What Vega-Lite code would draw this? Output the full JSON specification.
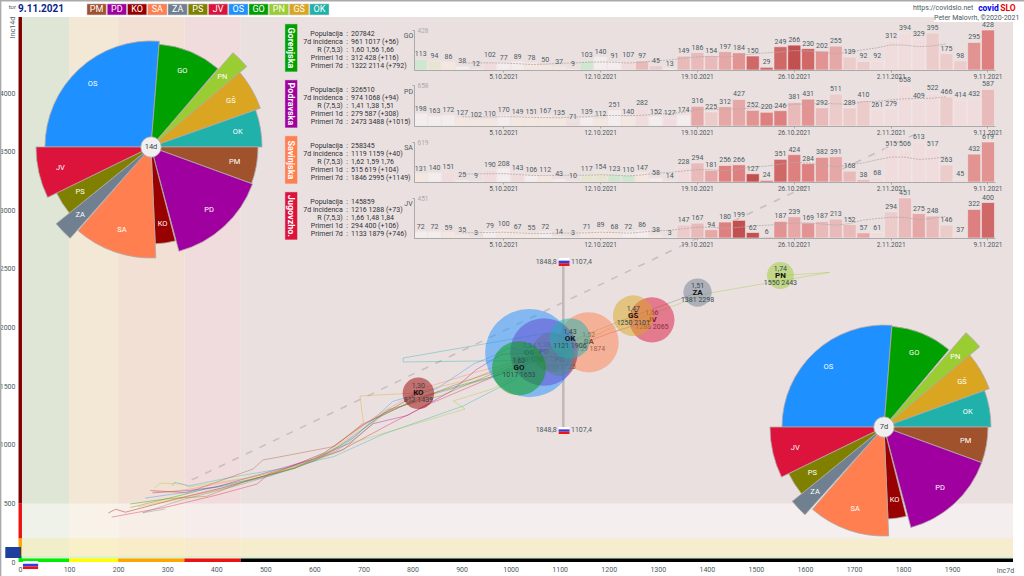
{
"$schema":"https://vega.github.io/schema/vega-lite/v6.json",
"autosize":{"type":"none"},
"padding":{"left":20,"top":18,"right":11,"bottom":14},
"width":993,"height":544,
"background":"#ffffff",
"config":{"view":{"stroke":null},"font":"Roboto","text":{"font":"Roboto"}},
"resolve":{"scale":{"x":"independent","y":"independent","color":"independent"}},
"datasets":{
"zones":[
{"zone":"c1","x0":0,"x1":100,"y0":0,"y1":4648},
{"zone":"c2","x0":100,"x1":200,"y0":0,"y1":4648},
{"zone":"c3","x0":200,"x1":335,"y0":0,"y1":4648},
{"zone":"c4","x0":335,"x1":450,"y0":0,"y1":4648},
{"zone":"c5","x0":450,"x1":2024,"y0":0,"y1":4648},
{"zone":"r1","x0":0,"x1":2024,"y0":200,"y1":500},
{"zone":"r2","x0":0,"x1":2024,"y0":50,"y1":200},
{"zone":"r3","x0":0,"x1":2024,"y0":25,"y1":50},
{"zone":"dark","x0":-3,"x1":4,"y0":500,"y1":4648},
{"zone":"red","x0":-3,"x1":4,"y0":200,"y1":500},
{"zone":"orange","x0":-3,"x1":4,"y0":50,"y1":200},
{"zone":"lime","x0":-3,"x1":4,"y0":0,"y1":50},
{"zone":"lime","x0":0,"x1":100,"y0":0,"y1":30},
{"zone":"yellow","x0":100,"x1":200,"y0":0,"y1":30},
{"zone":"orange","x0":200,"x1":335,"y0":0,"y1":30},
{"zone":"red","x0":335,"x1":450,"y0":0,"y1":30},
{"zone":"black","x0":450,"x1":2024,"y0":0,"y1":30},
{"zone":"eu","x0":-30,"x1":2,"y0":34,"y1":128},
{"zone":"white","x0":6,"x1":37,"y0":-15,"y1":8},
{"zone":"blue","x0":6,"x1":37,"y0":-37,"y1":-15},
{"zone":"red","x0":6,"x1":37,"y0":-60,"y1":-37},
{"zone":"frame","x0":-41,"x1":-38,"y0":-120,"y1":4794},
{"zone":"frame","x0":-41,"x1":2060,"y0":4781,"y1":4794},
{"zone":"white","x0":1863,"x1":2036,"y0":4606,"y1":4666}
],
"flags":[
{"zone":"white","x0":1098,"x1":1120,"y0":2570,"y1":2593},
{"zone":"blue","x0":1098,"x1":1120,"y0":2548,"y1":2570},
{"zone":"red","x0":1098,"x1":1120,"y0":2525,"y1":2548},
{"zone":"white","x0":1098,"x1":1120,"y0":1131,"y1":1151},
{"zone":"blue","x0":1098,"x1":1120,"y0":1112,"y1":1131},
{"zone":"red","x0":1098,"x1":1120,"y0":1092,"y1":1112}
],
"regions":[
{"code":"SA","pop":258345,"x":1159,"y":1874,"rt":"1,52","xy":"1159 1874"},
{"code":"JV","pop":145859,"x":1288,"y":2065,"rt":"1,66","xy":"1288 2065"},
{"code":"PD","pop":326510,"x":1068,"y":1791,"rt":"1,38","xy":"1068 1791"},
{"code":"PM","pop":114000,"x":1085,"y":1790,"rt":"1,36","xy":"1085 1790"},
{"code":"PS","pop":75000,"x":1099,"y":1725,"rt":"1,48","xy":"1099 1725"},
{"code":"OS","pop":556000,"x":1038,"y":1782,"rt":"1,34","xy":"1038 1782"},
{"code":"GO","pop":207842,"x":1017,"y":1653,"rt":"1,62","xy":"1017 1653"},
{"code":"OK","pop":117000,"x":1121,"y":1906,"rt":"1,43","xy":"1121 1906"},
{"code":"KO","pop":71000,"x":812,"y":1439,"rt":"1,30","xy":"812 1439"},
{"code":"GŠ","pop":118000,"x":1250,"y":2101,"rt":"1,47","xy":"1250 2101"},
{"code":"ZA","pop":57000,"x":1381,"y":2298,"rt":"1,51","xy":"1381 2298"},
{"code":"PN","pop":52000,"x":1550,"y":2443,"rt":"1,74","xy":"1550 2443"}
],
"paths":[
{"code":"GO","i":0,"x":225,"y":495},{"code":"GO","i":1,"x":300,"y":540},{"code":"GO","i":2,"x":380,"y":625},{"code":"GO","i":3,"x":470,"y":705},{"code":"GO","i":4,"x":560,"y":800},{"code":"GO","i":5,"x":650,"y":985},{"code":"GO","i":6,"x":730,"y":1230},{"code":"GO","i":7,"x":810,"y":1400},{"code":"GO","i":8,"x":900,"y":1510},{"code":"GO","i":9,"x":980,"y":1600},{"code":"GO","i":10,"x":1017,"y":1653},
{"code":"JV","i":0,"x":187,"y":383},{"code":"JV","i":1,"x":300,"y":470},{"code":"JV","i":2,"x":400,"y":570},{"code":"JV","i":3,"x":483,"y":665},{"code":"JV","i":4,"x":510,"y":759},{"code":"JV","i":5,"x":652,"y":947},{"code":"JV","i":6,"x":760,"y":1190},{"code":"JV","i":7,"x":830,"y":1340},{"code":"JV","i":8,"x":920,"y":1500},{"code":"JV","i":9,"x":1000,"y":1640},{"code":"JV","i":10,"x":1100,"y":1790},{"code":"JV","i":11,"x":1200,"y":1950},{"code":"JV","i":12,"x":1288,"y":2065},
{"code":"KO","i":0,"x":180,"y":418},{"code":"KO","i":1,"x":195,"y":450},{"code":"KO","i":2,"x":215,"y":425},{"code":"KO","i":3,"x":320,"y":540},{"code":"KO","i":4,"x":420,"y":640},{"code":"KO","i":5,"x":520,"y":760},{"code":"KO","i":6,"x":620,"y":930},{"code":"KO","i":7,"x":700,"y":1170},{"code":"KO","i":8,"x":760,"y":1310},{"code":"KO","i":9,"x":812,"y":1439},
{"code":"OS","i":0,"x":255,"y":545},{"code":"OS","i":1,"x":330,"y":590},{"code":"OS","i":2,"x":420,"y":650},{"code":"OS","i":3,"x":505,"y":730},{"code":"OS","i":4,"x":600,"y":860},{"code":"OS","i":5,"x":680,"y":1060},{"code":"OS","i":6,"x":760,"y":1370},{"code":"OS","i":7,"x":850,"y":1480},{"code":"OS","i":8,"x":925,"y":1690},{"code":"OS","i":9,"x":960,"y":1750},{"code":"OS","i":10,"x":1000,"y":1830},{"code":"OS","i":11,"x":1038,"y":1782},
{"code":"PD","i":0,"x":270,"y":590},{"code":"PD","i":1,"x":345,"y":610},{"code":"PD","i":2,"x":400,"y":640},{"code":"PD","i":3,"x":500,"y":760},{"code":"PD","i":4,"x":600,"y":880},{"code":"PD","i":5,"x":670,"y":1010},{"code":"PD","i":6,"x":720,"y":1180},{"code":"PD","i":7,"x":790,"y":1250},{"code":"PD","i":8,"x":880,"y":1460},{"code":"PD","i":9,"x":930,"y":1640},{"code":"PD","i":10,"x":980,"y":1770},{"code":"PD","i":11,"x":1068,"y":1791},
{"code":"SA","i":0,"x":270,"y":605},{"code":"SA","i":1,"x":310,"y":600},{"code":"SA","i":2,"x":350,"y":625},{"code":"SA","i":3,"x":470,"y":720},{"code":"SA","i":4,"x":570,"y":820},{"code":"SA","i":5,"x":640,"y":960},{"code":"SA","i":6,"x":720,"y":1230},{"code":"SA","i":7,"x":820,"y":1480},{"code":"SA","i":8,"x":930,"y":1620},{"code":"SA","i":9,"x":1040,"y":1740},{"code":"SA","i":10,"x":1159,"y":1874},
{"code":"OK","i":0,"x":310,"y":650},{"code":"OK","i":1,"x":315,"y":680},{"code":"OK","i":2,"x":345,"y":650},{"code":"OK","i":3,"x":440,"y":730},{"code":"OK","i":4,"x":540,"y":800},{"code":"OK","i":5,"x":640,"y":900},{"code":"OK","i":6,"x":740,"y":1090},{"code":"OK","i":7,"x":903,"y":1330},{"code":"OK","i":8,"x":1010,"y":1560},{"code":"OK","i":9,"x":1040,"y":1720},{"code":"OK","i":10,"x":781,"y":1706},{"code":"OK","i":11,"x":781,"y":1740},{"code":"OK","i":12,"x":1074,"y":1953},{"code":"OK","i":13,"x":1121,"y":1906},
{"code":"PN","i":0,"x":275,"y":631},{"code":"PN","i":1,"x":285,"y":673},{"code":"PN","i":2,"x":330,"y":665},{"code":"PN","i":3,"x":345,"y":640},{"code":"PN","i":4,"x":450,"y":710},{"code":"PN","i":5,"x":560,"y":800},{"code":"PN","i":6,"x":652,"y":985},{"code":"PN","i":7,"x":907,"y":1305},{"code":"PN","i":8,"x":883,"y":1373},{"code":"PN","i":9,"x":962,"y":1475},{"code":"PN","i":10,"x":1080,"y":1750},{"code":"PN","i":11,"x":1200,"y":1980},{"code":"PN","i":12,"x":1400,"y":2290},{"code":"PN","i":13,"x":1650,"y":2470},{"code":"PN","i":14,"x":1550,"y":2443},
{"code":"GŠ","i":0,"x":240,"y":470},{"code":"GŠ","i":1,"x":300,"y":520},{"code":"GŠ","i":2,"x":400,"y":610},{"code":"GŠ","i":3,"x":500,"y":735},{"code":"GŠ","i":4,"x":620,"y":900},{"code":"GŠ","i":5,"x":700,"y":1190},{"code":"GŠ","i":6,"x":693,"y":1416},{"code":"GŠ","i":7,"x":800,"y":1440},{"code":"GŠ","i":8,"x":920,"y":1560},{"code":"GŠ","i":9,"x":1060,"y":1800},{"code":"GŠ","i":10,"x":1180,"y":1950},{"code":"GŠ","i":11,"x":1250,"y":2101},
{"code":"ZA","i":0,"x":296,"y":452},{"code":"ZA","i":1,"x":250,"y":420},{"code":"ZA","i":2,"x":330,"y":530},{"code":"ZA","i":3,"x":450,"y":660},{"code":"ZA","i":4,"x":560,"y":800},{"code":"ZA","i":5,"x":650,"y":960},{"code":"ZA","i":6,"x":740,"y":1270},{"code":"ZA","i":7,"x":850,"y":1440},{"code":"ZA","i":8,"x":950,"y":1560},{"code":"ZA","i":9,"x":1060,"y":1780},{"code":"ZA","i":10,"x":1220,"y":2050},{"code":"ZA","i":11,"x":1381,"y":2298},
{"code":"PM","i":0,"x":265,"y":610},{"code":"PM","i":1,"x":340,"y":590},{"code":"PM","i":2,"x":475,"y":793},{"code":"PM","i":3,"x":495,"y":870},{"code":"PM","i":4,"x":550,"y":913},{"code":"PM","i":5,"x":640,"y":985},{"code":"PM","i":6,"x":700,"y":1180},{"code":"PM","i":7,"x":790,"y":1350},{"code":"PM","i":8,"x":880,"y":1500},{"code":"PM","i":9,"x":990,"y":1660},{"code":"PM","i":10,"x":1085,"y":1790},
{"code":"PS","i":0,"x":225,"y":465},{"code":"PS","i":1,"x":300,"y":540},{"code":"PS","i":2,"x":380,"y":560},{"code":"PS","i":3,"x":460,"y":690},{"code":"PS","i":4,"x":560,"y":800},{"code":"PS","i":5,"x":660,"y":960},{"code":"PS","i":6,"x":750,"y":1300},{"code":"PS","i":7,"x":860,"y":1420},{"code":"PS","i":8,"x":960,"y":1600},{"code":"PS","i":9,"x":1040,"y":1700},{"code":"PS","i":10,"x":1099,"y":1725}
],
"pie":[
{"pie":"14d","code":"OS","a0":-90,"a1":4.5,"mid":-42.75,"size":106,"lr":86},
{"pie":"14d","code":"GO","a0":4.5,"a1":40.5,"mid":22.5,"size":103,"lr":82},
{"pie":"14d","code":"PN","a0":41,"a1":50,"mid":45.5,"size":125,"lr":100},
{"pie":"14d","code":"GŠ","a0":50,"a1":70.5,"mid":60.25,"size":116,"lr":92},
{"pie":"14d","code":"OK","a0":70.5,"a1":90,"mid":80.25,"size":111,"lr":88},
{"pie":"14d","code":"PM","a0":90,"a1":110,"mid":100,"size":107,"lr":85},
{"pie":"14d","code":"PD","a0":110,"a1":165,"mid":137.5,"size":108,"lr":86},
{"pie":"14d","code":"KO","a0":165.5,"a1":177.5,"mid":171.5,"size":97,"lr":78},
{"pie":"14d","code":"SA","a0":177.5,"a1":221,"mid":199.25,"size":111,"lr":88},
{"pie":"14d","code":"ZA","a0":221.5,"a1":231,"mid":226.25,"size":122,"lr":98},
{"pie":"14d","code":"PS","a0":231,"a1":244,"mid":237.5,"size":105,"lr":84},
{"pie":"14d","code":"JV","a0":244,"a1":270,"mid":257,"size":115,"lr":93},
{"pie":"7d","code":"OS","a0":-90,"a1":4.5,"mid":-42.75,"size":102,"lr":82},
{"pie":"7d","code":"GO","a0":4.5,"a1":40,"mid":22.25,"size":101,"lr":80},
{"pie":"7d","code":"PN","a0":41,"a1":50,"mid":45.5,"size":125,"lr":100},
{"pie":"7d","code":"GŠ","a0":50,"a1":70,"mid":60,"size":112,"lr":90},
{"pie":"7d","code":"OK","a0":70,"a1":90,"mid":80,"size":107,"lr":85},
{"pie":"7d","code":"PM","a0":90,"a1":110,"mid":100,"size":104,"lr":83},
{"pie":"7d","code":"PD","a0":110,"a1":165,"mid":137.5,"size":104,"lr":83},
{"pie":"7d","code":"KO","a0":166,"a1":177.5,"mid":171.75,"size":92,"lr":74},
{"pie":"7d","code":"SA","a0":177.5,"a1":221,"mid":199.25,"size":109,"lr":87},
{"pie":"7d","code":"ZA","a0":222,"a1":231,"mid":226.5,"size":118,"lr":95},
{"pie":"7d","code":"PS","a0":231,"a1":244,"mid":237.5,"size":106,"lr":85},
{"pie":"7d","code":"JV","a0":244,"a1":270,"mid":257,"size":114,"lr":91}
],
"tbl":[
{"slot":0,"label":"Populacija","value":"207842"},{"slot":1,"label":"7d incidenca","value":"961 1017 (+56)"},{"slot":2,"label":"R (7,5,3)","value":"1,60 1,56 1,66"},{"slot":3,"label":"Primeri 1d","value":"312 428 (+116)"},{"slot":4,"label":"Primeri 7d","value":"1322 2114 (+792)"},
{"slot":7,"label":"Populacija","value":"326510"},{"slot":8,"label":"7d incidenca","value":"974 1068 (+94)"},{"slot":9,"label":"R (7,5,3)","value":"1,41 1,38 1,51"},{"slot":10,"label":"Primeri 1d","value":"279 587 (+308)"},{"slot":11,"label":"Primeri 7d","value":"2473 3488 (+1015)"},
{"slot":14,"label":"Populacija","value":"258345"},{"slot":15,"label":"7d incidenca","value":"1119 1159 (+40)"},{"slot":16,"label":"R (7,5,3)","value":"1,62 1,59 1,76"},{"slot":17,"label":"Primeri 1d","value":"515 619 (+104)"},{"slot":18,"label":"Primeri 7d","value":"1846 2995 (+1149)"},
{"slot":21,"label":"Populacija","value":"145859"},{"slot":22,"label":"7d incidenca","value":"1216 1288 (+73)"},{"slot":23,"label":"R (7,5,3)","value":"1,66 1,48 1,84"},{"slot":24,"label":"Primeri 1d","value":"294 400 (+106)"},{"slot":25,"label":"Primeri 7d","value":"1133 1879 (+746)"}
],
"panels":[
{"name":"Gorenjska","code":"GO","s0":-1.2,"s1":4.8,"mid":1.8},
{"name":"Podravska","code":"PD","s0":5.8,"s1":11.8,"mid":8.8},
{"name":"Savinjska","code":"SA","s0":12.8,"s1":18.8,"mid":15.8},
{"name":"Jugovzho.","code":"JV","s0":19.8,"s1":25.8,"mid":22.8}
],
"codes":[{"code":"PM"},{"code":"PD"},{"code":"KO"},{"code":"SA"},{"code":"ZA"},{"code":"PS"},{"code":"JV"},{"code":"OS"},{"code":"GO"},{"code":"PN"},{"code":"GŠ"},{"code":"OK"}],
"bars":[
{"r":"GO","date":"2021-09-29","v":113,"t":-3},{"r":"GO","date":"2021-09-30","v":94,"t":-2},{"r":"GO","date":"2021-10-01","v":86,"t":-1},{"r":"GO","date":"2021-10-02","v":38,"t":0},{"r":"GO","date":"2021-10-03","v":12,"t":0},{"r":"GO","date":"2021-10-04","v":102,"t":1},{"r":"GO","date":"2021-10-05","v":77,"t":0},{"r":"GO","date":"2021-10-06","v":89,"t":0},{"r":"GO","date":"2021-10-07","v":78,"t":-1},{"r":"GO","date":"2021-10-08","v":50,"t":-1},{"r":"GO","date":"2021-10-09","v":37,"t":-1},{"r":"GO","date":"2021-10-10","v":9,"t":0},{"r":"GO","date":"2021-10-11","v":103,"t":-3},{"r":"GO","date":"2021-10-12","v":140,"t":0},{"r":"GO","date":"2021-10-13","v":91,"t":0},{"r":"GO","date":"2021-10-14","v":107,"t":1},{"r":"GO","date":"2021-10-15","v":97,"t":3},{"r":"GO","date":"2021-10-16","v":45,"t":2},{"r":"GO","date":"2021-10-17","v":13,"t":0},{"r":"GO","date":"2021-10-18","v":149,"t":3},{"r":"GO","date":"2021-10-19","v":186,"t":3},{"r":"GO","date":"2021-10-20","v":154,"t":3},{"r":"GO","date":"2021-10-21","v":197,"t":4},{"r":"GO","date":"2021-10-22","v":184,"t":5},{"r":"GO","date":"2021-10-23","v":150,"t":7},{"r":"GO","date":"2021-10-24","v":29,"t":7},{"r":"GO","date":"2021-10-25","v":249,"t":7},{"r":"GO","date":"2021-10-26","v":266,"t":8},{"r":"GO","date":"2021-10-27","v":230,"t":7},{"r":"GO","date":"2021-10-28","v":202,"t":5},{"r":"GO","date":"2021-10-29","v":255,"t":4},{"r":"GO","date":"2021-10-30","v":139,"t":2},{"r":"GO","date":"2021-10-31","v":92,"t":2},{"r":"GO","date":"2021-11-01","v":92,"t":1},{"r":"GO","date":"2021-11-02","v":312,"t":1},{"r":"GO","date":"2021-11-03","v":394,"t":1},{"r":"GO","date":"2021-11-04","v":329,"t":1},{"r":"GO","date":"2021-11-05","v":395,"t":2},{"r":"GO","date":"2021-11-06","v":175,"t":2},{"r":"GO","date":"2021-11-07","v":98,"t":2},{"r":"GO","date":"2021-11-08","v":295,"t":5},{"r":"GO","date":"2021-11-09","v":428,"t":6},
{"r":"PD","date":"2021-09-29","v":198,"t":0},{"r":"PD","date":"2021-09-30","v":163,"t":0},{"r":"PD","date":"2021-10-01","v":172,"t":0},{"r":"PD","date":"2021-10-02","v":127,"t":-1},{"r":"PD","date":"2021-10-03","v":102,"t":-1},{"r":"PD","date":"2021-10-04","v":110,"t":-1},{"r":"PD","date":"2021-10-05","v":170,"t":0},{"r":"PD","date":"2021-10-06","v":149,"t":-1},{"r":"PD","date":"2021-10-07","v":151,"t":-1},{"r":"PD","date":"2021-10-08","v":167,"t":-1},{"r":"PD","date":"2021-10-09","v":135,"t":-1},{"r":"PD","date":"2021-10-10","v":71,"t":1},{"r":"PD","date":"2021-10-11","v":139,"t":0},{"r":"PD","date":"2021-10-12","v":112,"t":-1},{"r":"PD","date":"2021-10-13","v":251,"t":0},{"r":"PD","date":"2021-10-14","v":140,"t":-1},{"r":"PD","date":"2021-10-15","v":282,"t":1},{"r":"PD","date":"2021-10-16","v":152,"t":0},{"r":"PD","date":"2021-10-17","v":127,"t":1},{"r":"PD","date":"2021-10-18","v":174,"t":0},{"r":"PD","date":"2021-10-19","v":316,"t":4},{"r":"PD","date":"2021-10-20","v":225,"t":2},{"r":"PD","date":"2021-10-21","v":312,"t":4},{"r":"PD","date":"2021-10-22","v":427,"t":4},{"r":"PD","date":"2021-10-23","v":252,"t":5},{"r":"PD","date":"2021-10-24","v":220,"t":6},{"r":"PD","date":"2021-10-25","v":246,"t":6},{"r":"PD","date":"2021-10-26","v":381,"t":3},{"r":"PD","date":"2021-10-27","v":431,"t":5},{"r":"PD","date":"2021-10-28","v":292,"t":3},{"r":"PD","date":"2021-10-29","v":511,"t":2},{"r":"PD","date":"2021-10-30","v":289,"t":2},{"r":"PD","date":"2021-10-31","v":410,"t":2},{"r":"PD","date":"2021-11-01","v":261,"t":1},{"r":"PD","date":"2021-11-02","v":279,"t":1},{"r":"PD","date":"2021-11-03","v":658,"t":1},{"r":"PD","date":"2021-11-04","v":409,"t":1},{"r":"PD","date":"2021-11-05","v":522,"t":1},{"r":"PD","date":"2021-11-06","v":466,"t":2},{"r":"PD","date":"2021-11-07","v":414,"t":1},{"r":"PD","date":"2021-11-08","v":432,"t":1},{"r":"PD","date":"2021-11-09","v":587,"t":3},
{"r":"SA","date":"2021-09-29","v":131,"t":-1},{"r":"SA","date":"2021-09-30","v":140,"t":0},{"r":"SA","date":"2021-10-01","v":151,"t":1},{"r":"SA","date":"2021-10-02","v":25,"t":0},{"r":"SA","date":"2021-10-03","v":9,"t":0},{"r":"SA","date":"2021-10-04","v":190,"t":1},{"r":"SA","date":"2021-10-05","v":208,"t":0},{"r":"SA","date":"2021-10-06","v":143,"t":1},{"r":"SA","date":"2021-10-07","v":106,"t":0},{"r":"SA","date":"2021-10-08","v":112,"t":-1},{"r":"SA","date":"2021-10-09","v":43,"t":0},{"r":"SA","date":"2021-10-10","v":10,"t":0},{"r":"SA","date":"2021-10-11","v":117,"t":-2},{"r":"SA","date":"2021-10-12","v":154,"t":-2},{"r":"SA","date":"2021-10-13","v":123,"t":-3},{"r":"SA","date":"2021-10-14","v":110,"t":-3},{"r":"SA","date":"2021-10-15","v":147,"t":-1},{"r":"SA","date":"2021-10-16","v":58,"t":0},{"r":"SA","date":"2021-10-17","v":14,"t":-1},{"r":"SA","date":"2021-10-18","v":228,"t":1},{"r":"SA","date":"2021-10-19","v":294,"t":3},{"r":"SA","date":"2021-10-20","v":181,"t":4},{"r":"SA","date":"2021-10-21","v":256,"t":6},{"r":"SA","date":"2021-10-22","v":266,"t":6},{"r":"SA","date":"2021-10-23","v":127,"t":8},{"r":"SA","date":"2021-10-24","v":24,"t":7},{"r":"SA","date":"2021-10-25","v":351,"t":7},{"r":"SA","date":"2021-10-26","v":424,"t":6},{"r":"SA","date":"2021-10-27","v":284,"t":6},{"r":"SA","date":"2021-10-28","v":382,"t":5},{"r":"SA","date":"2021-10-29","v":391,"t":4},{"r":"SA","date":"2021-10-30","v":168,"t":3},{"r":"SA","date":"2021-10-31","v":38,"t":3},{"r":"SA","date":"2021-11-01","v":68,"t":1},{"r":"SA","date":"2021-11-02","v":515,"t":1},{"r":"SA","date":"2021-11-03","v":506,"t":1},{"r":"SA","date":"2021-11-04","v":613,"t":1},{"r":"SA","date":"2021-11-05","v":517,"t":1},{"r":"SA","date":"2021-11-06","v":263,"t":2},{"r":"SA","date":"2021-11-07","v":45,"t":1},{"r":"SA","date":"2021-11-08","v":432,"t":5},{"r":"SA","date":"2021-11-09","v":619,"t":5},
{"r":"JV","date":"2021-09-29","v":72,"t":0},{"r":"JV","date":"2021-09-30","v":72,"t":0},{"r":"JV","date":"2021-10-01","v":59,"t":-1},{"r":"JV","date":"2021-10-02","v":35,"t":-1},{"r":"JV","date":"2021-10-03","v":3,"t":0},{"r":"JV","date":"2021-10-04","v":79,"t":0},{"r":"JV","date":"2021-10-05","v":100,"t":-1},{"r":"JV","date":"2021-10-06","v":67,"t":-1},{"r":"JV","date":"2021-10-07","v":55,"t":-1},{"r":"JV","date":"2021-10-08","v":72,"t":0},{"r":"JV","date":"2021-10-09","v":14,"t":-1},{"r":"JV","date":"2021-10-10","v":3,"t":0},{"r":"JV","date":"2021-10-11","v":71,"t":-1},{"r":"JV","date":"2021-10-12","v":89,"t":-1},{"r":"JV","date":"2021-10-13","v":68,"t":-1},{"r":"JV","date":"2021-10-14","v":72,"t":0},{"r":"JV","date":"2021-10-15","v":86,"t":0},{"r":"JV","date":"2021-10-16","v":38,"t":-1},{"r":"JV","date":"2021-10-17","v":3,"t":0},{"r":"JV","date":"2021-10-18","v":147,"t":2},{"r":"JV","date":"2021-10-19","v":167,"t":3},{"r":"JV","date":"2021-10-20","v":94,"t":4},{"r":"JV","date":"2021-10-21","v":180,"t":6},{"r":"JV","date":"2021-10-22","v":199,"t":8},{"r":"JV","date":"2021-10-23","v":62,"t":8},{"r":"JV","date":"2021-10-24","v":6,"t":8},{"r":"JV","date":"2021-10-25","v":187,"t":5},{"r":"JV","date":"2021-10-26","v":239,"t":4},{"r":"JV","date":"2021-10-27","v":169,"t":5},{"r":"JV","date":"2021-10-28","v":187,"t":3},{"r":"JV","date":"2021-10-29","v":213,"t":3},{"r":"JV","date":"2021-10-30","v":152,"t":3},{"r":"JV","date":"2021-10-31","v":57,"t":4},{"r":"JV","date":"2021-11-01","v":61,"t":1},{"r":"JV","date":"2021-11-02","v":294,"t":2},{"r":"JV","date":"2021-11-03","v":451,"t":3},{"r":"JV","date":"2021-11-04","v":275,"t":4},{"r":"JV","date":"2021-11-05","v":248,"t":3},{"r":"JV","date":"2021-11-06","v":146,"t":2},{"r":"JV","date":"2021-11-07","v":37,"t":1},{"r":"JV","date":"2021-11-08","v":322,"t":6},{"r":"JV","date":"2021-11-09","v":400,"t":7}
]
},
"layer":[
{"data":{"name":"zones"},"mark":{"type":"rect"},
 "encoding":{
  "x":{"field":"x0","type":"quantitative","scale":{"domain":[0,2024],"nice":false},
   "axis":{"values":[0,100,200,300,400,500,600,700,800,900,1000,1100,1200,1300,1400,1500,1600,1700,1800,1900],"format":"d","grid":false,"ticks":false,"domain":false,"labelFontSize":7,"labelColor":"#4a5a60","labelPadding":3,"labelFlush":false,"labelOverlap":false,"title":"Inc7d","titleFontSize":7,"titleFontWeight":"normal","titleColor":"#4a5a60","titleX":985,"titleY":8,"titleAlign":"center","titleBaseline":"middle"}},
  "x2":{"field":"x1"},
  "y":{"field":"y0","type":"quantitative","scale":{"domain":[0,4640],"nice":false},
   "axis":{"values":[0,500,1000,1500,2000,2500,3000,3500,4000],"format":"d","grid":false,"ticks":false,"domain":false,"labelFontSize":7,"labelColor":"#4a5a60","labelPadding":5,"labelOverlap":false,"labelFlush":false,"title":"Inc14d","titleFontSize":7,"titleFontWeight":"normal","titleColor":"#4a5a60","titleX":-8,"titleY":9,"titleAngle":-90,"titleAlign":"center","titleBaseline":"middle"}},
  "y2":{"field":"y1"},
  "color":{"field":"zone","type":"nominal","legend":null,"scale":{
   "domain":["c1","c2","c3","c4","c5","r1","r2","r3","dark","red","orange","lime","yellow","black","eu","white","blue","frame"],
   "range":["#dfe6d5","#f3e7d6","#f1e0d3","#f0dcdc","#ebe0e0","#ffffff77","#fff7c088","#d8f5cfcc","#800000","#ee1111","#ffa500","#00ee00","#ffff00","#000000","#1f3f9f","#ffffff","#2a3cf0","#aaaaaa"]}}
 }},
{"layer":[
{"data":{"values":[{"x":350,"y":700},{"x":1830,"y":3660}]},"mark":{"type":"line","stroke":"#c8bebe","strokeWidth":1.5,"strokeDash":[7,8]},
 "encoding":{"x":{"field":"x","type":"quantitative","scale":{"domain":[0,2024],"nice":false},"axis":null},"y":{"field":"y","type":"quantitative","scale":{"domain":[0,4640],"nice":false},"axis":null}}},
{"data":{"values":[{"x":1107.4,"y0":1151,"y1":2533}]},"mark":{"type":"rule","stroke":"#c2b8b8","strokeWidth":2.5},
 "encoding":{"x":{"field":"x","type":"quantitative","scale":{"domain":[0,2024],"nice":false},"axis":null},"y":{"field":"y0","type":"quantitative","scale":{"domain":[0,4640],"nice":false},"axis":null},"y2":{"field":"y1"}}},
{"data":{"name":"flags"},"mark":{"type":"rect"},
 "encoding":{"x":{"field":"x0","type":"quantitative","scale":{"domain":[0,2024],"nice":false},"axis":null},"x2":{"field":"x1"},"y":{"field":"y0","type":"quantitative","scale":{"domain":[0,4640],"nice":false},"axis":null},"y2":{"field":"y1"},
  "color":{"field":"zone","type":"nominal","legend":null,"scale":{"domain":["white","blue","red"],"range":["#ffffff","#2a3cf0","#ee1111"]}}}},
{"data":{"values":[
 {"x":1094,"y":2559,"a":"1848,8"},{"x":1094,"y":1126,"a":"1848,8"}]},"mark":{"type":"text","align":"right","baseline":"middle","fontSize":7,"fill":"#4a5a60"},
 "encoding":{"x":{"field":"x","type":"quantitative","scale":{"domain":[0,2024],"nice":false},"axis":null},"y":{"field":"y","type":"quantitative","scale":{"domain":[0,4640],"nice":false},"axis":null},"text":{"field":"a"}}},
{"data":{"values":[
 {"x":1123,"y":2559,"a":"1107,4"},{"x":1123,"y":1126,"a":"1107,4"},
 {"x":1820,"y":4725,"a":"https://covidslo.net"},{"x":1863,"y":4636,"a":"Peter Malovrh, ©2020-2021"}]},"mark":{"type":"text","align":"left","baseline":"middle","fontSize":7,"fill":"#4a5a60"},
 "encoding":{"x":{"field":"x","type":"quantitative","scale":{"domain":[0,2024],"nice":false},"axis":null},"y":{"field":"y","type":"quantitative","scale":{"domain":[0,4640],"nice":false},"axis":null},"text":{"field":"a"}}},
{"data":{"values":[{"x":1953,"y":4725,"a":"covid"}]},"mark":{"type":"text","align":"left","baseline":"middle","fontSize":8.5,"fontWeight":"bold","fill":"#0000ee"},
 "encoding":{"x":{"field":"x","type":"quantitative","scale":{"domain":[0,2024],"nice":false},"axis":null},"y":{"field":"y","type":"quantitative","scale":{"domain":[0,4640],"nice":false},"axis":null},"text":{"field":"a"}}},
{"data":{"values":[{"x":1998,"y":4725,"a":"SLO"}]},"mark":{"type":"text","align":"left","baseline":"middle","fontSize":8.5,"fontWeight":"bold","fill":"#ee0000"},
 "encoding":{"x":{"field":"x","type":"quantitative","scale":{"domain":[0,2024],"nice":false},"axis":null},"y":{"field":"y","type":"quantitative","scale":{"domain":[0,4640],"nice":false},"axis":null},"text":{"field":"a"}}},
{"data":{"values":[{"x":-4,"y":4717,"a":"9.11.2021"}]},"mark":{"type":"text","align":"left","baseline":"middle","fontSize":10,"fontWeight":"bold","fill":"#0b1f8a"},
 "encoding":{"x":{"field":"x","type":"quantitative","scale":{"domain":[0,2024],"nice":false},"axis":null},"y":{"field":"y","type":"quantitative","scale":{"domain":[0,4640],"nice":false},"axis":null},"text":{"field":"a"}}},
{"data":{"values":[{"x":-8,"y":4730,"a":"tor"}]},"mark":{"type":"text","align":"right","baseline":"middle","fontSize":6,"fill":"#4a5a60"},
 "encoding":{"x":{"field":"x","type":"quantitative","scale":{"domain":[0,2024],"nice":false},"axis":null},"y":{"field":"y","type":"quantitative","scale":{"domain":[0,4640],"nice":false},"axis":null},"text":{"field":"a"}}}
]},
{"data":{"name":"bars"},"transform":[{"filter":"datum.r=='GO'"}],
 "encoding":{
  "x":{"field":"date","type":"ordinal","scale":{"type":"band","range":[393.8,974.9],"paddingInner":0.06,"paddingOuter":0.03},
   "axis":{"orient":"bottom","offset":-492,"values":["2021-10-05","2021-10-12","2021-10-19","2021-10-26","2021-11-02","2021-11-09"],"labelExpr":"utcFormat(toDate(datum.value),'%-d.%-m.%Y')","labelFontSize":6.5,"labelColor":"#4a5a60","labelAngle":0,"labelPadding":1,"labelOverlap":false,"tickSize":2,"tickColor":"#aaa","domainColor":"#aaa","title":null,"grid":false,"zindex":1}},
  "y":{"field":"v","type":"quantitative","scale":{"domain":[0,428],"range":[52,12],"nice":false},
   "axis":{"orient":"left","offset":-394,"values":[428],"grid":false,"labelAlign":"left","labelColor":"#aaa","labelFontSize":6.5,"labelPadding":-5,"tickSize":2,"tickColor":"#aaa","domainColor":"#aaa","title":"GO","titleAngle":0,"titleFontSize":7,"titleFontWeight":"normal","titleColor":"#4a5a60","titleX":-6,"titleY":17,"titleAlign":"center","titleBaseline":"middle","zindex":1}}},
 "layer":[
  {"mark":{"type":"bar","stroke":"#f3e7e7","strokeWidth":0.6},"encoding":{"color":{"field":"t","type":"quantitative","legend":null,"scale":{"domain":[-3,0,3,6,8],"range":["#cfe6cf","#f3eded","#e8baba","#de8080","#c25050"]}}}},
  {"transform":[{"window":[{"op":"mean","field":"v","as":"v"}],"sort":[{"field":"date"}],"frame":[-3,3]},{"filter":"datum.date>='2021-10-02' && datum.date<='2021-11-06'"}],"mark":{"type":"line","stroke":"#b5aaaa","strokeWidth":0.8,"strokeDash":[2,1]}},
  {"mark":{"type":"text","dy":-5,"fontSize":7,"fill":"#4a5a60","baseline":"middle"},"encoding":{"text":{"field":"v","type":"quantitative"}}}
 ]},
{"data":{"name":"bars"},"transform":[{"filter":"datum.r=='PD'"}],
 "encoding":{
  "x":{"field":"date","type":"ordinal","scale":{"type":"band","range":[393.8,974.9],"paddingInner":0.06,"paddingOuter":0.03},
   "axis":{"orient":"bottom","offset":-436,"values":["2021-10-05","2021-10-12","2021-10-19","2021-10-26","2021-11-02","2021-11-09"],"labelExpr":"utcFormat(toDate(datum.value),'%-d.%-m.%Y')","labelFontSize":6.5,"labelColor":"#4a5a60","labelAngle":0,"labelPadding":1,"labelOverlap":false,"tickSize":2,"tickColor":"#aaa","domainColor":"#aaa","title":null,"grid":false,"zindex":1}},
  "y":{"field":"v","type":"quantitative","scale":{"domain":[0,658],"range":[108,67],"nice":false},
   "axis":{"orient":"left","offset":-394,"values":[658],"grid":false,"labelAlign":"left","labelColor":"#aaa","labelFontSize":6.5,"labelPadding":-5,"tickSize":2,"tickColor":"#aaa","domainColor":"#aaa","title":"PD","titleAngle":0,"titleFontSize":7,"titleFontWeight":"normal","titleColor":"#4a5a60","titleX":-6,"titleY":73,"titleAlign":"center","titleBaseline":"middle","zindex":1}}},
 "layer":[
  {"mark":{"type":"bar","stroke":"#f3e7e7","strokeWidth":0.6},"encoding":{"color":{"field":"t","type":"quantitative","legend":null,"scale":{"domain":[-3,0,3,6,8],"range":["#cfe6cf","#f3eded","#e8baba","#de8080","#c25050"]}}}},
  {"transform":[{"window":[{"op":"mean","field":"v","as":"v"}],"sort":[{"field":"date"}],"frame":[-3,3]},{"filter":"datum.date>='2021-10-02' && datum.date<='2021-11-06'"}],"mark":{"type":"line","stroke":"#b5aaaa","strokeWidth":0.8,"strokeDash":[2,1]}},
  {"mark":{"type":"text","dy":-5,"fontSize":7,"fill":"#4a5a60","baseline":"middle"},"encoding":{"text":{"field":"v","type":"quantitative"}}}
 ]},
{"data":{"name":"bars"},"transform":[{"filter":"datum.r=='SA'"}],
 "encoding":{
  "x":{"field":"date","type":"ordinal","scale":{"type":"band","range":[393.8,974.9],"paddingInner":0.06,"paddingOuter":0.03},
   "axis":{"orient":"bottom","offset":-380,"values":["2021-10-05","2021-10-12","2021-10-19","2021-10-26","2021-11-02","2021-11-09"],"labelExpr":"utcFormat(toDate(datum.value),'%-d.%-m.%Y')","labelFontSize":6.5,"labelColor":"#4a5a60","labelAngle":0,"labelPadding":1,"labelOverlap":false,"tickSize":2,"tickColor":"#aaa","domainColor":"#aaa","title":null,"grid":false,"zindex":1}},
  "y":{"field":"v","type":"quantitative","scale":{"domain":[0,619],"range":[164,124],"nice":false},
   "axis":{"orient":"left","offset":-394,"values":[619],"grid":false,"labelAlign":"left","labelColor":"#aaa","labelFontSize":6.5,"labelPadding":-5,"tickSize":2,"tickColor":"#aaa","domainColor":"#aaa","title":"SA","titleAngle":0,"titleFontSize":7,"titleFontWeight":"normal","titleColor":"#4a5a60","titleX":-6,"titleY":129,"titleAlign":"center","titleBaseline":"middle","zindex":1}}},
 "layer":[
  {"mark":{"type":"bar","stroke":"#f3e7e7","strokeWidth":0.6},"encoding":{"color":{"field":"t","type":"quantitative","legend":null,"scale":{"domain":[-3,0,3,6,8],"range":["#cfe6cf","#f3eded","#e8baba","#de8080","#c25050"]}}}},
  {"transform":[{"window":[{"op":"mean","field":"v","as":"v"}],"sort":[{"field":"date"}],"frame":[-3,3]},{"filter":"datum.date>='2021-10-02' && datum.date<='2021-11-06'"}],"mark":{"type":"line","stroke":"#b5aaaa","strokeWidth":0.8,"strokeDash":[2,1]}},
  {"mark":{"type":"text","dy":-5,"fontSize":7,"fill":"#4a5a60","baseline":"middle"},"encoding":{"text":{"field":"v","type":"quantitative"}}}
 ]},
{"data":{"name":"bars"},"transform":[{"filter":"datum.r=='JV'"}],
 "encoding":{
  "x":{"field":"date","type":"ordinal","scale":{"type":"band","range":[393.8,974.9],"paddingInner":0.06,"paddingOuter":0.03},
   "axis":{"orient":"bottom","offset":-324,"values":["2021-10-05","2021-10-12","2021-10-19","2021-10-26","2021-11-02","2021-11-09"],"labelExpr":"utcFormat(toDate(datum.value),'%-d.%-m.%Y')","labelFontSize":6.5,"labelColor":"#4a5a60","labelAngle":0,"labelPadding":1,"labelOverlap":false,"tickSize":2,"tickColor":"#aaa","domainColor":"#aaa","title":null,"grid":false,"zindex":1}},
  "y":{"field":"v","type":"quantitative","scale":{"domain":[0,451],"range":[220,180],"nice":false},
   "axis":{"orient":"left","offset":-394,"values":[451],"grid":false,"labelAlign":"left","labelColor":"#aaa","labelFontSize":6.5,"labelPadding":-5,"tickSize":2,"tickColor":"#aaa","domainColor":"#aaa","title":"JV","titleAngle":0,"titleFontSize":7,"titleFontWeight":"normal","titleColor":"#4a5a60","titleX":-6,"titleY":185,"titleAlign":"center","titleBaseline":"middle","zindex":1}}},
 "layer":[
  {"mark":{"type":"bar","stroke":"#f3e7e7","strokeWidth":0.6},"encoding":{"color":{"field":"t","type":"quantitative","legend":null,"scale":{"domain":[-3,0,3,6,8],"range":["#cfe6cf","#f3eded","#e8baba","#de8080","#c25050"]}}}},
  {"transform":[{"window":[{"op":"mean","field":"v","as":"v"}],"sort":[{"field":"date"}],"frame":[-3,3]},{"filter":"datum.date>='2021-10-02' && datum.date<='2021-11-06'"}],"mark":{"type":"line","stroke":"#b5aaaa","strokeWidth":0.8,"strokeDash":[2,1]}},
  {"mark":{"type":"text","dy":-5,"fontSize":7,"fill":"#4a5a60","baseline":"middle"},"encoding":{"text":{"field":"v","type":"quantitative"}}}
 ]},
{
 "layer":[
  {"data":{"name":"panels"},"mark":{"type":"rect","stroke":"#dddddd","strokeWidth":0.5},
   "encoding":{"x":{"datum":540,"type":"quantitative","scale":{"domain":[0,2024],"nice":false},"axis":null},"x2":{"datum":565.6},
    "y":{"field":"s0","type":"quantitative","scale":{"domain":[0,25],"range":[15.5,215.5],"nice":false},"axis":null},"y2":{"field":"s1"},
    "color":{"field":"code","type":"nominal","legend":null,"scale":{"domain":["GO","PD","SA","JV"],"range":["#00a000","#a000a0","#ff7f50","#dc143c"]}}}},
  {"data":{"name":"panels"},"mark":{"type":"text","angle":90,"fontSize":9,"fontWeight":"bold","fill":"#ffffff","align":"center","baseline":"middle"},
   "encoding":{"x":{"datum":552.8,"type":"quantitative","scale":{"domain":[0,2024],"nice":false},"axis":null},"y":{"field":"mid","type":"quantitative","scale":{"domain":[0,25],"range":[15.5,215.5],"nice":false},"axis":null},"text":{"field":"name"}}},
  {"data":{"name":"tbl"},"mark":{"type":"text","align":"right","baseline":"middle","fontSize":7,"fill":"#2b3338"},
   "encoding":{"x":{"datum":658,"type":"quantitative","scale":{"domain":[0,2024],"nice":false},"axis":null},"y":{"field":"slot","type":"quantitative","scale":{"domain":[0,25],"range":[15.5,215.5],"nice":false},"axis":null},"text":{"field":"label"}}},
  {"data":{"name":"tbl"},"mark":{"type":"text","align":"center","baseline":"middle","fontSize":7,"fill":"#2b3338","text":":"},
   "encoding":{"x":{"datum":666.5,"type":"quantitative","scale":{"domain":[0,2024],"nice":false},"axis":null},"y":{"field":"slot","type":"quantitative","scale":{"domain":[0,25],"range":[15.5,215.5],"nice":false},"axis":null}}},
  {"data":{"name":"tbl"},"mark":{"type":"text","align":"left","baseline":"middle","fontSize":7,"fill":"#2b3338"},
   "encoding":{"x":{"datum":674.7,"type":"quantitative","scale":{"domain":[0,2024],"nice":false},"axis":null},"y":{"field":"slot","type":"quantitative","scale":{"domain":[0,25],"range":[15.5,215.5],"nice":false},"axis":null},"text":{"field":"value"}}}
 ]},
{
 "data":{"name":"codes"},
 "encoding":{"x":{"field":"code","type":"nominal","axis":null,"scale":{"type":"band","domain":["PM","PD","KO","SA","ZA","PS","JV","OS","GO","PN","GŠ","OK"],"range":[67,309],"paddingInner":0.05,"paddingOuter":0}}},
 "layer":[
  {"mark":{"type":"rect","stroke":"#cccccc","strokeWidth":0.5},
   "encoding":{"y":{"datum":4666,"type":"quantitative","scale":{"domain":[0,4640],"nice":false},"axis":null},"y2":{"datum":4760},
    "color":{"field":"code","type":"nominal","legend":null,"scale":{"domain":["PM","PD","KO","SA","ZA","PS","JV","OS","GO","PN","GŠ","OK"],"range":["#a0522d","#a000a0","#990000","#ff7f50","#708090","#808000","#dc143c","#1e90ff","#00a000","#9acd32","#daa520","#20b2aa"]}}}},
  {"mark":{"type":"text","fontSize":9,"fill":"#ffffff","align":"center","baseline":"middle"},
   "encoding":{"y":{"datum":4713,"type":"quantitative","scale":{"domain":[0,4640],"nice":false},"axis":null},"text":{"field":"code"}}}
 ]},
{
 "layer":[
  {"data":{"name":"paths"},"mark":{"type":"line","strokeWidth":0.7,"opacity":0.55},
   "encoding":{"x":{"field":"x","type":"quantitative","scale":{"domain":[0,2024],"nice":false},"axis":null},"y":{"field":"y","type":"quantitative","scale":{"domain":[0,4640],"nice":false},"axis":null},"order":{"field":"i","type":"quantitative"},
    "color":{"field":"code","type":"nominal","legend":null,"scale":{"domain":["PM","PD","KO","SA","ZA","PS","JV","OS","GO","PN","GŠ","OK"],"range":["#a0522d","#a000a0","#990000","#ff7f50","#708090","#808000","#dc143c","#1e90ff","#00a000","#9acd32","#daa520","#20b2aa"]}}}},
  {"data":{"name":"regions"},"transform":[{"filter":"indexof(['OS','PD','PS','SA','JV'],datum.code)>=0"}],"mark":{"type":"text","dy":-7,"fontSize":7,"fill":"#33484f","baseline":"middle"},
   "encoding":{"x":{"field":"x","type":"quantitative","scale":{"domain":[0,2024],"nice":false},"axis":null},"y":{"field":"y","type":"quantitative","scale":{"domain":[0,4640],"nice":false},"axis":null},"text":{"field":"rt"}}},
  {"data":{"name":"regions"},"transform":[{"filter":"indexof(['OS','PD','PS','SA','JV'],datum.code)>=0"}],"mark":{"type":"text","fontSize":8,"fontWeight":"bold","fill":"#111111","baseline":"middle"},
   "encoding":{"x":{"field":"x","type":"quantitative","scale":{"domain":[0,2024],"nice":false},"axis":null},"y":{"field":"y","type":"quantitative","scale":{"domain":[0,4640],"nice":false},"axis":null},"text":{"field":"code"}}},
  {"data":{"name":"regions"},"transform":[{"filter":"indexof(['OS','PD','PS','SA','JV'],datum.code)>=0"}],"mark":{"type":"text","dy":7,"fontSize":7,"fill":"#33484f","baseline":"middle"},
   "encoding":{"x":{"field":"x","type":"quantitative","scale":{"domain":[0,2024],"nice":false},"axis":null},"y":{"field":"y","type":"quantitative","scale":{"domain":[0,4640],"nice":false},"axis":null},"text":{"field":"xy"}}},
  {"data":{"name":"regions"},"mark":{"type":"circle","opacity":0.5},
   "encoding":{"x":{"field":"x","type":"quantitative","scale":{"domain":[0,2024],"nice":false},"axis":null},"y":{"field":"y","type":"quantitative","scale":{"domain":[0,4640],"nice":false},"axis":null},
    "size":{"field":"pop","type":"quantitative","legend":null,"scale":{"type":"linear","domain":[0,600000],"range":[0,8410]}},
    "color":{"field":"code","type":"nominal","legend":null,"scale":{"domain":["PM","PD","KO","SA","ZA","PS","JV","OS","GO","PN","GŠ","OK"],"range":["#a0522d","#a000a0","#990000","#ff7f50","#708090","#808000","#dc143c","#1e90ff","#00a000","#9acd32","#daa520","#20b2aa"]}}}},
  {"data":{"name":"regions"},"transform":[{"filter":"indexof(['OS','PD','PS','SA','JV','PM'],datum.code)<0"}],"mark":{"type":"text","dy":-7,"fontSize":7,"fill":"#33484f","baseline":"middle"},
   "encoding":{"x":{"field":"x","type":"quantitative","scale":{"domain":[0,2024],"nice":false},"axis":null},"y":{"field":"y","type":"quantitative","scale":{"domain":[0,4640],"nice":false},"axis":null},"text":{"field":"rt"}}},
  {"data":{"name":"regions"},"transform":[{"filter":"indexof(['OS','PD','PS','SA','JV','PM'],datum.code)<0"}],"mark":{"type":"text","fontSize":8,"fontWeight":"bold","fill":"#111111","baseline":"middle"},
   "encoding":{"x":{"field":"x","type":"quantitative","scale":{"domain":[0,2024],"nice":false},"axis":null},"y":{"field":"y","type":"quantitative","scale":{"domain":[0,4640],"nice":false},"axis":null},"text":{"field":"code"}}},
  {"data":{"name":"regions"},"transform":[{"filter":"indexof(['OS','PD','PS','SA','JV','PM'],datum.code)<0"}],"mark":{"type":"text","dy":7,"fontSize":7,"fill":"#33484f","baseline":"middle"},
   "encoding":{"x":{"field":"x","type":"quantitative","scale":{"domain":[0,2024],"nice":false},"axis":null},"y":{"field":"y","type":"quantitative","scale":{"domain":[0,4640],"nice":false},"axis":null},"text":{"field":"xy"}}},
  {"data":{"name":"pie"},"transform":[{"filter":"datum.pie=='14d'"}],"mark":{"type":"arc","stroke":"#b0a8a8","strokeWidth":0.8},
   "encoding":{"x":{"datum":267,"type":"quantitative","scale":{"domain":[0,2024],"nice":false},"axis":null},"y":{"datum":3540,"type":"quantitative","scale":{"domain":[0,4640],"nice":false},"axis":null},
    "theta":{"field":"a0","type":"quantitative","scale":{"domain":[0,360],"range":[0,6.283185]}},"theta2":{"field":"a1"},
    "radius":{"field":"size","type":"quantitative","scale":{"domain":[0,200],"range":[0,200]}},
    "color":{"field":"code","type":"nominal","legend":null,"scale":{"domain":["PM","PD","KO","SA","ZA","PS","JV","OS","GO","PN","GŠ","OK"],"range":["#a0522d","#a000a0","#990000","#ff7f50","#708090","#808000","#dc143c","#1e90ff","#00a000","#9acd32","#daa520","#20b2aa"]}}}},
  {"data":{"name":"pie"},"transform":[{"filter":"datum.pie=='7d'"}],"mark":{"type":"arc","stroke":"#b0a8a8","strokeWidth":0.8},
   "encoding":{"x":{"datum":1761,"type":"quantitative","scale":{"domain":[0,2024],"nice":false},"axis":null},"y":{"datum":1151,"type":"quantitative","scale":{"domain":[0,4640],"nice":false},"axis":null},
    "theta":{"field":"a0","type":"quantitative","scale":{"domain":[0,360],"range":[0,6.283185]}},"theta2":{"field":"a1"},
    "radius":{"field":"size","type":"quantitative","scale":{"domain":[0,200],"range":[0,200]}},
    "color":{"field":"code","type":"nominal","legend":null,"scale":{"domain":["PM","PD","KO","SA","ZA","PS","JV","OS","GO","PN","GŠ","OK"],"range":["#a0522d","#a000a0","#990000","#ff7f50","#708090","#808000","#dc143c","#1e90ff","#00a000","#9acd32","#daa520","#20b2aa"]}}}},
  {"data":{"name":"pie"},"transform":[{"filter":"datum.pie=='14d'"}],"mark":{"type":"text","fontSize":7.5,"fill":"#ffffff","align":"center","baseline":"middle"},
   "encoding":{"x":{"datum":267,"type":"quantitative","scale":{"domain":[0,2024],"nice":false},"axis":null},"y":{"datum":3540,"type":"quantitative","scale":{"domain":[0,4640],"nice":false},"axis":null},
    "theta":{"field":"mid","type":"quantitative","scale":{"domain":[0,360],"range":[0,6.283185]}},
    "radius":{"field":"lr","type":"quantitative","scale":{"domain":[0,200],"range":[0,200]}},"text":{"field":"code"}}},
  {"data":{"name":"pie"},"transform":[{"filter":"datum.pie=='7d'"}],"mark":{"type":"text","fontSize":7.5,"fill":"#ffffff","align":"center","baseline":"middle"},
   "encoding":{"x":{"datum":1761,"type":"quantitative","scale":{"domain":[0,2024],"nice":false},"axis":null},"y":{"datum":1151,"type":"quantitative","scale":{"domain":[0,4640],"nice":false},"axis":null},
    "theta":{"field":"mid","type":"quantitative","scale":{"domain":[0,360],"range":[0,6.283185]}},
    "radius":{"field":"lr","type":"quantitative","scale":{"domain":[0,200],"range":[0,200]}},"text":{"field":"code"}}},
  {"data":{"values":[{"x":267,"y":3540,"a":"14d"},{"x":1761,"y":1151,"a":"7d"}]},"mark":{"type":"circle","size":420,"fill":"#f0eeee","stroke":"#b0a8a8","strokeWidth":0.8,"opacity":1},
   "encoding":{"x":{"field":"x","type":"quantitative","scale":{"domain":[0,2024],"nice":false},"axis":null},"y":{"field":"y","type":"quantitative","scale":{"domain":[0,4640],"nice":false},"axis":null}}},
  {"data":{"values":[{"x":267,"y":3540,"a":"14d"},{"x":1761,"y":1151,"a":"7d"}]},"mark":{"type":"text","fontSize":7.5,"fill":"#33484f","align":"center","baseline":"middle"},
   "encoding":{"x":{"field":"x","type":"quantitative","scale":{"domain":[0,2024],"nice":false},"axis":null},"y":{"field":"y","type":"quantitative","scale":{"domain":[0,4640],"nice":false},"axis":null},"text":{"field":"a"}}}
 ]}
]
}
